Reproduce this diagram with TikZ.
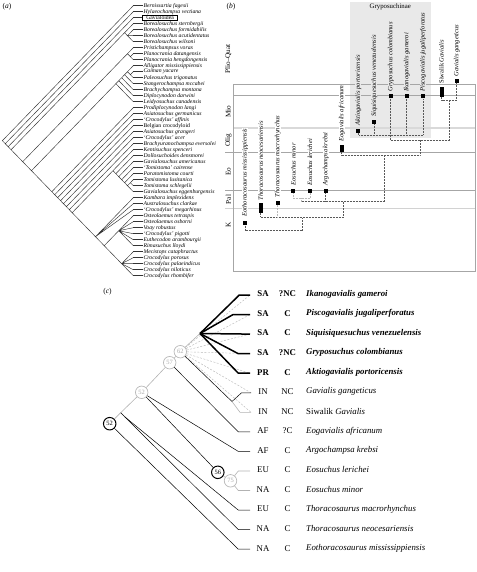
\documentclass[tikz,border=0pt]{standalone}
\usepackage{fontspec}
\setmainfont{Liberation Serif}
\newcommand{\mkclade}[3]{\coordinate (#1) at ({133.3-2.91*(#3-#2)},{5.7+3*(#2+#3-2)});}
\begin{document}
\begin{tikzpicture}[x=1pt,y=-1pt,
 aline/.style={line width=0.45pt, black!80},
 alab/.style={font=\fontsize{5.7}{6}\selectfont\itshape, inner sep=0.4pt, anchor=west},
 bline/.style={gray!70, line width=0.6pt},
 blight/.style={gray!30, line width=1.6pt},
 blab/.style={font=\fontsize{6.5}{7}\selectfont\itshape, rotate=90, anchor=west, fill=white, inner xsep=0.8pt, inner ysep=0.2pt},
 blabg/.style={blab, fill=gray!17},
 bmark/.style={fill=black, inner sep=0pt, minimum width=4pt, minimum height=4pt},
 bdot/.style={densely dotted, line width=0.5pt, black!65},
 epoch/.style={font=\fontsize{7.2}{8}\selectfont, rotate=90, inner sep=0.5pt},
 cline/.style={line width=0.5pt, black},
 cgray/.style={gray!60, line width=0.6pt},
 cbold/.style={line width=1.5pt, black},
 cdash/.style={gray!55, line width=0.45pt, dash pattern=on 2pt off 1.5pt},
 cbw/.style={circle, draw=black, line width=1pt, inner sep=0pt, minimum size=12.5pt, font=\fontsize{6.5}{7}\selectfont, fill=white},
 cgw/.style={cbw, draw=gray!55, text=gray!65, line width=0.7pt},
 ccode/.style={font=\fontsize{8.8}{10}\selectfont, anchor=center, inner sep=0pt},
 ccodeb/.style={font=\fontsize{8.8}{10}\selectfont\bfseries, anchor=center, inner sep=0pt},
 cname/.style={font=\fontsize{8.8}{10}\selectfont\itshape, anchor=west, inner sep=0pt},
 cnameb/.style={font=\fontsize{8.8}{10}\selectfont\bfseries\itshape, anchor=west, inner sep=0pt},
 plab/.style={font=\fontsize{7.5}{9}\selectfont, inner sep=0pt}]
\useasboundingbox (0,0) rectangle (476,572);

% ================= panel (a) =================
\node[plab] (pa) at (7,6.5) {(\textit{a})};
\foreach \i in {1,...,46} \coordinate (a\i) at (133.3,{5.7+6*(\i-1)});
\mkclade{r}{1}{46}
\mkclade{n2}{2}{46}
\mkclade{n3}{3}{46}
\mkclade{n4}{4}{46}
\mkclade{bo}{4}{7}
\mkclade{bo5}{5}{7}
\mkclade{n8}{8}{46}
\mkclade{pl}{8}{10}
\mkclade{pl9}{9}{10}
\mkclade{n11}{11}{46}
\mkclade{al}{11}{17}
\mkclade{al16}{11}{16}
\mkclade{al15}{11}{15}
\mkclade{al14}{11}{14}
\mkclade{al13}{11}{13}
\mkclade{al12}{12}{13}
\mkclade{c18}{18}{46}
\mkclade{c19}{19}{46}
\mkclade{c20}{20}{46}
\mkclade{c21}{21}{46}
\mkclade{c22}{22}{46}
\mkclade{c23}{23}{46}
\mkclade{c24}{24}{46}
\mkclade{cd}{25}{46}
\mkclade{t25}{25}{32}
\mkclade{t26}{26}{32}
\mkclade{t27}{27}{32}
\mkclade{t28}{28}{32}
\mkclade{t29}{29}{32}
\mkclade{t30}{30}{32}
\mkclade{t3031}{30}{31}
\mkclade{k33}{33}{46}
\mkclade{k36}{36}{46}
\mkclade{o36}{36}{41}
\mkclade{cr42}{42}{46}
\draw[aline] (r)--(a1) (r)--(n2) (n2)--(a2) (n2)--(n3) (n3)--(a3) (n3)--(n4)
 (n4)--(bo) (n4)--(n8) (bo)--(a4) (bo)--(bo5) (bo5)--(a5) (bo5)--(a6) (bo5)--(a7)
 (n8)--(pl) (n8)--(n11) (pl)--(a8) (pl)--(pl9) (pl9)--(a9) (pl9)--(a10)
 (n11)--(al) (n11)--(c18)
 (al)--(al16) (al)--(a17) (al16)--(al15) (al16)--(a16) (al15)--(al14) (al15)--(a15)
 (al14)--(al13) (al14)--(a14) (al13)--(a11) (al13)--(al12) (al12)--(a12) (al12)--(a13)
 (c18)--(a18) (c18)--(c19) (c19)--(a19) (c19)--(c20) (c20)--(a20) (c20)--(c21)
 (c21)--(a21) (c21)--(c22) (c22)--(a22) (c22)--(c23) (c23)--(a23) (c23)--(c24)
 (c24)--(a24) (c24)--(cd) (cd)--(t25) (cd)--(k33)
 (t25)--(a25) (t25)--(t26) (t26)--(a26) (t26)--(t27) (t27)--(a27) (t27)--(t28)
 (t28)--(a28) (t28)--(t29) (t29)--(a29) (t29)--(t30) (t30)--(t3031) (t30)--(a32)
 (t3031)--(a30) (t3031)--(a31)
 (k33)--(a33) (k33)--(a34) (k33)--(a35) (k33)--(k36)
 (k36)--(o36) (k36)--(cr42)
 (o36)--(a36) (o36)--(a37) (o36)--(a38) (o36)--(a39) (o36)--(a40) (o36)--(a41)
 (cr42)--(a42) (cr42)--(a43) (cr42)--(a44) (cr42)--(a45) (cr42)--(a46);
\foreach \i/\t in {1/Bernissartia fagesii, 2/Hylaeochampsa vectiana,
 4/Borealosuchus sternbergii, 5/Borealosuchus formidabilis, 6/Borealosuchus acutidentatus,
 7/Borealosuchus wilsoni, 8/Pristichampsus vorax, 9/Planocrania datangensis,
 10/Planocrania hengdongensis, 11/Alligator mississippiensis, 12/Caiman yacare,
 13/Paleosuchus trigonatus, 14/Stangerochampsa mccabei, 15/Brachychampsa montana,
 16/Diplocynodon darwini, 17/Leidyosuchus canadensis, 18/Prodiplocynodon langi,
 19/Asiatosuchus germanicus, 20/`Crocodylus' affinis, 21/{\upshape Belgian crocodyloid},
 22/Asiatosuchus grangeri, 23/`Crocodylus' acer, 24/Brachyuranochampsa eversolei,
 25/Kentisuchus spenceri, 26/Dollosuchoides densmorei, 27/Gavialosuchus americanus,
 28/`Tomistoma' cairense, 29/Paratomistoma courti, 30/Tomistoma lusitanica,
 31/Tomistoma schlegelii, 32/Gavialosuchus eggenburgensis, 33/Kambara implexidens,
 34/Australosuchus clarkae, 35/`Crocodylus' megarhinus, 36/Osteolaemus tetraspis,
 37/Osteolaemus osborni, 38/Voay robustus, 39/`Crocodylus' pigotti,
 40/Euthecodon arambourgii, 41/Rimasuchus lloydi, 42/Mecistops cataphractus,
 43/Crocodylus porosus, 44/Crocodylus palaeindicus, 45/Crocodylus niloticus,
 46/Crocodylus rhombifer}
 \node[alab] (ta\i) at (143,{5.7+6*(\i-1)}) {\t};
\node[alab, draw, line width=0.45pt, font=\fontsize{5.7}{6}\selectfont, inner xsep=3.8pt, inner ysep=0.6pt] (ta3) at (142.3,17.7) {Gavialoidea};
\foreach \i in {1,...,46} \draw[aline] (a\i) -- (ta\i.west);

% ================= panel (b) =================
\node[plab] (pb) at (231,7) {(\textit{b})};
\fill[gray!17] (350,2) rectangle (430.7,138.3);
\node[font=\fontsize{6.8}{8}\selectfont, inner sep=0.5pt] (gtitle) at (390.3,7) {Gryposuchinae};
\draw[bline] (233.3,95) -- (475.5,95);
\draw[blight] (233.3,128.3) -- (475.5,128.3);
\draw[bline] (225,152.3) -- (475.5,152.3);
\draw[bline] (225,190.5) -- (475.5,190.5);
\draw[gray!35, line width=0.9pt] (225,208.3) -- (475.5,208.3);
\draw[bline] (233.3,84.3) rectangle (475.5,271.5);
\node[epoch] (ep1) at (228.3,59) {Plio--Quat};
\node[epoch] (ep2) at (228.3,111.5) {Mio};
\node[epoch] (ep3) at (228.3,140.5) {Olig};
\node[epoch] (ep4) at (228.3,171.5) {Eo};
\node[epoch] (ep5) at (228.3,199.5) {Pal};
\node[epoch] (ep6) at (228.3,225) {K};
% taxon labels
\node[blab] (bl1) at (245,217.5) {Eothoracosaurus mississippiensis};
\node[blab] (bl2) at (260.7,201.5) {Thoracosaurus neocesariensis};
\node[blab] (bl3) at (277.7,198) {Thoracosaurus macrorhynchus};
\node[blab] (bl4) at (293.3,186.5) {Eosuchus minor};
\node[blab] (bl5) at (310,186.5) {Eosuchus lerichei};
\node[blab] (bl6) at (325.7,186.5) {Argochampsa krebsi};
\node[blab] (bl7) at (341.7,142.5) {Eogavialis africanum};
\node[blabg] (bl8) at (358.3,126.3) {Aktiogavialis portoricensis};
\node[blabg] (bl9) at (374.3,118) {Siquisiquesuchus venezuelensis};
\node[blabg] (bl10) at (390.7,92.5) {Gryposuchus colombianus};
\node[blabg] (bl11) at (406.7,92.5) {Ikanogavialis gameroi};
\node[blabg] (bl12) at (423,92.5) {Piscogavialis jugaliperforatus};
\node[blab] (bl13) at (441.5,84.5) {{\upshape Siwalik} Gavialis};
\node[blab] (bl14) at (456.7,77.5) {Gavialis gangeticus};
% tree junctions
\coordinate (e1) at (245,230.7);
\coordinate (e2) at (302.7,230.7);
\coordinate (e3) at (302.7,217.3);
\coordinate (t1) at (260.7,217.3);
\coordinate (t2) at (277.7,217.3);
\coordinate (t3) at (343.3,217.3);
\coordinate (t4) at (343.3,201.7);
\coordinate (s1) at (293.3,198.3);
\coordinate (s2) at (310,198.3);
\coordinate (s3) at (301.7,198.3);
\coordinate (s4) at (301.7,201.7);
\coordinate (ar) at (325.7,201.7);
\coordinate (c2) at (384.3,201.7);
\coordinate (c3) at (384.3,155);
\coordinate (d1) at (341.7,155);
\coordinate (d2) at (420,155);
\coordinate (d3) at (420,140);
\coordinate (g0) at (390.7,140);
\coordinate (g9) at (449.3,140);
\coordinate (q1) at (358.3,135);
\coordinate (q2) at (374.3,135);
\coordinate (q4) at (406.7,135);
\coordinate (q5) at (423,135);
\coordinate (v0) at (449.3,100);
\coordinate (v1) at (441.5,100);
\coordinate (v2) at (456.7,100);
% marks
\node[bmark] (m1) at (245,223.3) {};
\node[bmark, minimum height=9.4pt] (m2) at (260.7,208) {};
\node[bmark] (m3) at (277.7,202.7) {};
\node[bmark] (m4) at (293.3,191) {};
\node[bmark] (m5) at (310,190.7) {};
\node[bmark] (m6) at (325.7,191) {};
\node[bmark, minimum height=6.7pt] (m7) at (341.7,148.3) {};
\node[bmark] (m8) at (358.3,130.7) {};
\node[bmark] (m9) at (374.3,122.3) {};
\node[bmark] (m10) at (390.7,96.5) {};
\node[bmark] (m11) at (406.7,96.5) {};
\node[bmark] (m12) at (423,96.5) {};
\node[bmark, minimum height=9.4pt] (m13) at (441.5,92) {};
\node[bmark] (m14) at (456.7,80.7) {};
% dotted tree
\draw[bdot] (m1.south) -- (e1) -- (e2) -- (e3);
\draw[bdot] (m2.south) -- (t1) -- (t3) -- (t4);
\draw[bdot, gray!55] (m3.south) -- (t2);
\draw[bdot, gray!55] (m4.south) -- (s1) -- (s2) -- (m5.south);
\draw[bdot, gray!55] (s3) -- (s4);
\draw[bdot] (s4) -- (c2) -- (c3);
\draw[bdot] (m6.south) -- (ar);
\draw[bdot] (m7.south) -- (d1) -- (d2) -- (d3);
\draw[bdot] (g0) -- (g9);
\draw[bdot] (m8.south) -- (q1) -- (q5) -- (m12.south);
\draw[bdot] (m9.south) -- (q2);
\draw[bdot] (m11.south) -- (q4);
\draw[bdot] (m10.south) -- (g0);
\draw[bdot] (m13.south) -- (v1) -- (v2) -- (m14.south);
\draw[bdot] (v0) -- (g9);

% ================= panel (c) =================
\node[plab] (pc) at (107.5,292) {(\textit{c})};
\node[cbw] (r52) at (109.7,423.7) {52};
\node[cgw] (g52) at (141.7,392.3) {52};
\node[cgw] (g57) at (169.7,362.7) {57};
\node[cgw] (g62) at (180.3,351.7) {62};
\node[cbw] (b56) at (217.8,472.3) {56};
\node[cgw] (g75) at (230.5,480.8) {75};
\coordinate (tn) at (120.7,412.7);
\coordinate (th) at (124.5,416.6);
\coordinate (pp) at (200,333.5);
\coordinate (gv) at (232,401.5);
\foreach \i in {1,...,14} \coordinate (k\i) at (250,{295+19.55*(\i-1)});
\coordinate (k6) at (251,392.8);
\coordinate (k7) at (251,412.3);
\coordinate (q1) at (239.3,295);
\coordinate (q2) at (233,314.6);
\coordinate (q4) at (238.3,353.7);
\coordinate (q5) at (238.3,373.2);
\coordinate (q6) at (241.5,392.8);
\coordinate (q7) at (240,412.3);
\coordinate (q8) at (238.3,431.9);
\coordinate (q9) at (238.3,451.4);
\coordinate (q10) at (238.3,471);
\coordinate (q11) at (238.3,490.5);
\coordinate (q12) at (238.3,510.1);
\coordinate (q13) at (238.3,529.6);
\coordinate (q14) at (238.3,549.2);
% dashed fan from node 62
\foreach \i in {1,...,7} \draw[cdash] (g62) -- (k\i);
% stem
\draw[cgray] (r52) -- (tn) -- (g52) -- (g57) -- (g62) -- (pp);
% thin branches
\draw[cline] (r52) -- (q14) -- (k14);
\draw[cline] (tn) -- (th);
\draw[cline] (th) -- (q13) -- (k13);
\draw[cline] (th) -- (q12) -- (k12);
\draw[cline] (g52) -- (q9) -- (k9);
\draw[cline] (g52) -- (b56);
\draw[cgray] (b56) -- (g75);
\draw[cgray] (g75) -- (q10) -- (k10);
\draw[cgray] (g75) -- (q11) -- (k11);
\draw[cline] (g57) -- (q8) -- (k8);
\draw[cline] (g62) -- (gv);
\draw[cline] (gv) -- (q6) -- (k6);
\draw[cgray] (gv) -- (q7) -- (k7);
% bold polytomy
\draw[cbold] (pp) -- (q1) -- (k1);
\draw[cbold] (pp) -- (q2) -- (k2);
\draw[cbold] (pp) -- (k3);
\draw[cbold] (pp) -- (q4) -- (k4);
\draw[cbold] (pp) -- (q5) -- (k5);
% row texts
\foreach \i/\r/\s/\n in {1/SA/?NC/Ikanogavialis gameroi, 2/SA/C/Piscogavialis jugaliperforatus,
 3/SA/C/Siquisiquesuchus venezuelensis, 4/SA/?NC/Gryposuchus colombianus,
 5/PR/C/Aktiogavialis portoricensis}{
 \node[ccodeb] (cr\i) at (263,{294+19.55*(\i-1)}) {\r};
 \node[ccodeb] (cs\i) at (287.5,{294+19.55*(\i-1)}) {\s};
 \node[cnameb] (cn\i) at (306,{294+19.55*(\i-1)}) {\n};
}
\foreach \i/\r/\s/\n in {6/IN/NC/Gavialis gangeticus, 7/IN/NC/{\upshape Siwalik} Gavialis,
 8/AF/?C/Eogavialis africanum, 9/AF/C/Argochampsa krebsi, 10/EU/C/Eosuchus lerichei,
 11/NA/C/Eosuchus minor, 12/EU/C/Thoracosaurus macrorhynchus,
 13/NA/C/Thoracosaurus neocesariensis, 14/NA/C/Eothoracosaurus mississippiensis}{
 \node[ccode] (cr\i) at (263,{294+19.55*(\i-1)}) {\r};
 \node[ccode] (cs\i) at (287.5,{294+19.55*(\i-1)}) {\s};
 \node[cname] (cn\i) at (306,{294+19.55*(\i-1)}) {\n};
}
\end{tikzpicture}
\end{document}
